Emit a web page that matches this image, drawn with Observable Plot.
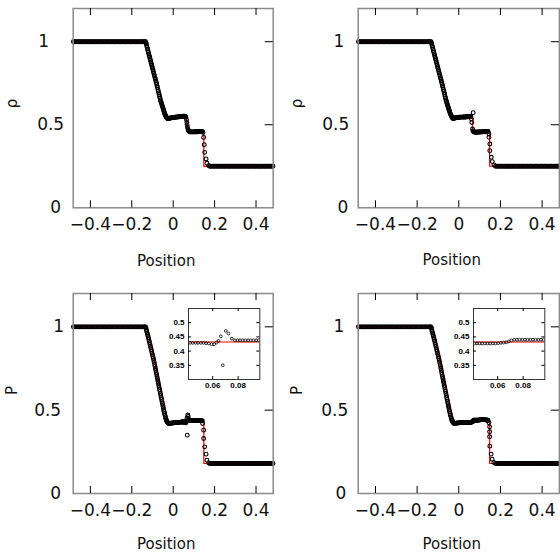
<!DOCTYPE html>
<html><head><meta charset="utf-8">
<script src="https://cdn.jsdelivr.net/npm/d3@7"></script>
<script src="https://cdn.jsdelivr.net/npm/@observablehq/plot@0.6"></script>
<style>
html,body{margin:0;padding:0;background:#fff;}
#chart{position:relative;width:560px;height:553px;overflow:hidden;background:#fff;}
#chart svg{position:absolute;overflow:visible;}
</style></head><body><div id="chart"></div>
<script>
// ---------- tick values ----------
const xTicks = [-0.4, -0.2, 0, 0.2, 0.4];
const yTicks = [0, 0.5, 1];
const insetXTicks = [0.06, 0.08];
const insetYTicks = [0.35, 0.4, 0.45, 0.5];

// ---------- states on both sides ----------
const rhoLeft = 1.0, rhoRight = 0.25, presLeft = 1.0, presRight = 0.18;

// particle positions in the undisturbed left and right states
const flatLeftX = [-0.482,-0.476,-0.470,-0.464,-0.458,-0.452,-0.446,-0.440,-0.434,-0.428,-0.422,-0.416,-0.410,-0.404,-0.398,-0.392,-0.386,-0.380,-0.374,-0.368,-0.362,-0.356,-0.350,-0.344,-0.338,-0.332,-0.326,-0.320,-0.314,-0.308,-0.302,-0.296,-0.290,-0.284,-0.278,-0.272,-0.266,-0.260,-0.254,-0.248,-0.242,-0.236,-0.230,-0.224,-0.218,-0.212,-0.206,-0.200,-0.194,-0.188,-0.182,-0.176,-0.170,-0.164,-0.158,-0.152,-0.146,-0.140,-0.137];
const flatRightX = [0.176,0.182,0.188,0.194,0.200,0.206,0.212,0.218,0.224,0.230,0.236,0.242,0.248,0.254,0.260,0.266,0.272,0.278,0.284,0.290,0.296,0.302,0.308,0.314,0.320,0.326,0.332,0.338,0.344,0.350,0.356,0.362,0.368,0.374,0.380,0.386,0.392,0.398,0.404,0.410,0.416,0.422,0.428,0.434,0.440,0.446,0.452,0.458,0.464,0.470,0.476,0.482];

// rarefaction fan (density)
const rhoFan = [[-0.134,1.000],[-0.132,0.994],[-0.130,0.986],[-0.128,0.976],[-0.126,0.966],[-0.124,0.956],[-0.122,0.946],[-0.120,0.937],[-0.118,0.927],[-0.116,0.917],[-0.114,0.908],[-0.112,0.898],[-0.110,0.888],[-0.108,0.879],[-0.106,0.869],[-0.104,0.860],[-0.102,0.850],[-0.100,0.840],[-0.098,0.831],[-0.096,0.821],[-0.094,0.812],[-0.092,0.802],[-0.090,0.793],[-0.088,0.783],[-0.086,0.774],[-0.084,0.764],[-0.082,0.755],[-0.080,0.745],[-0.078,0.734],[-0.076,0.724],[-0.074,0.713],[-0.072,0.703],[-0.070,0.692],[-0.068,0.682],[-0.066,0.671],[-0.064,0.661],[-0.062,0.650],[-0.060,0.642],[-0.058,0.634],[-0.056,0.626],[-0.054,0.618],[-0.052,0.610],[-0.050,0.602],[-0.048,0.594],[-0.046,0.586],[-0.044,0.578],[-0.042,0.570],[-0.040,0.564],[-0.038,0.558],[-0.036,0.553],[-0.034,0.548],[-0.032,0.544],[-0.030,0.540],[-0.028,0.537]];

// rarefaction fan (pressure)
const presFan = [[-0.134,1.000],[-0.132,0.993],[-0.130,0.983],[-0.128,0.973],[-0.126,0.964],[-0.124,0.954],[-0.122,0.945],[-0.120,0.935],[-0.118,0.925],[-0.116,0.915],[-0.114,0.905],[-0.112,0.895],[-0.110,0.884],[-0.108,0.874],[-0.106,0.863],[-0.104,0.853],[-0.102,0.842],[-0.100,0.832],[-0.098,0.821],[-0.096,0.811],[-0.094,0.800],[-0.092,0.788],[-0.090,0.775],[-0.088,0.763],[-0.086,0.750],[-0.084,0.738],[-0.082,0.725],[-0.080,0.713],[-0.078,0.700],[-0.076,0.688],[-0.074,0.675],[-0.072,0.663],[-0.070,0.650],[-0.068,0.638],[-0.066,0.625],[-0.064,0.613],[-0.062,0.600],[-0.060,0.588],[-0.058,0.575],[-0.056,0.563],[-0.054,0.550],[-0.052,0.538],[-0.050,0.525],[-0.048,0.513],[-0.046,0.500],[-0.044,0.490],[-0.042,0.480],[-0.040,0.470],[-0.038,0.460],[-0.036,0.450],[-0.034,0.443],[-0.032,0.437],[-0.030,0.432],[-0.028,0.428],[-0.026,0.424],[-0.024,0.421],[-0.022,0.420]];

// central region: plateau, contact, plateau, shock  (run A = left column, run B = right column)
const rhoMidA = [[-0.026,0.536],[-0.023,0.537],[-0.020,0.538],[-0.017,0.539],[-0.014,0.540],[-0.011,0.541],[-0.008,0.542],[-0.005,0.543],[-0.002,0.543],[0.001,0.544],[0.004,0.544],[0.007,0.545],[0.010,0.545],[0.013,0.546],[0.016,0.546],[0.019,0.547],[0.022,0.547],[0.025,0.548],[0.028,0.548],[0.031,0.548],[0.034,0.549],[0.037,0.549],[0.040,0.550],[0.043,0.550],[0.046,0.550],[0.049,0.551],[0.052,0.551],[0.055,0.551],[0.058,0.550],[0.061,0.545],
  [0.064,0.530],[0.066,0.514],[0.067,0.500],[0.069,0.486],[0.071,0.474],[0.074,0.465],[0.077,0.460],
  [0.080,0.458],[0.083,0.457],[0.086,0.457],[0.089,0.457],[0.092,0.457],[0.095,0.457],[0.098,0.457],[0.101,0.457],[0.104,0.457],[0.107,0.458],[0.110,0.458],[0.113,0.458],[0.116,0.458],[0.119,0.458],[0.122,0.458],[0.125,0.459],[0.128,0.459],[0.131,0.459],[0.134,0.460],[0.137,0.460],[0.140,0.459],
  [0.144,0.454],[0.147,0.424],[0.150,0.380],[0.152,0.334],[0.159,0.294],[0.163,0.268],[0.171,0.254]];

const rhoMidB = [[-0.026,0.537],[-0.023,0.539],[-0.020,0.540],[-0.017,0.541],[-0.014,0.542],[-0.011,0.543],[-0.008,0.543],[-0.005,0.544],[-0.002,0.544],[0.001,0.545],[0.004,0.545],[0.007,0.545],[0.010,0.546],[0.013,0.546],[0.016,0.546],[0.019,0.546],[0.022,0.547],[0.025,0.547],[0.028,0.547],[0.031,0.547],[0.034,0.547],[0.037,0.548],[0.040,0.548],[0.043,0.548],[0.046,0.548],[0.049,0.549],[0.052,0.549],[0.055,0.550],[0.058,0.551],
  [0.061,0.534],[0.0625,0.514],[0.069,0.573],[0.066,0.474],[0.068,0.462],[0.072,0.458],
  [0.075,0.456],[0.078,0.455],[0.081,0.455],[0.084,0.455],[0.087,0.455],[0.090,0.456],[0.093,0.456],[0.096,0.456],[0.099,0.456],[0.102,0.456],[0.105,0.457],[0.108,0.457],[0.111,0.457],[0.114,0.457],[0.117,0.458],[0.120,0.458],[0.123,0.458],[0.126,0.459],[0.129,0.459],[0.132,0.459],[0.135,0.460],[0.138,0.460],[0.141,0.460],
  [0.1446,0.444],[0.1446,0.424],[0.149,0.384],[0.149,0.344],[0.156,0.304],[0.161,0.278],[0.169,0.258]];

const presMidA = [[-0.020,0.420],[-0.017,0.421],[-0.014,0.421],[-0.011,0.422],[-0.008,0.422],[-0.005,0.423],[-0.002,0.423],[0.001,0.424],[0.004,0.424],[0.007,0.425],[0.010,0.425],[0.013,0.425],[0.016,0.426],[0.019,0.426],[0.022,0.426],[0.025,0.427],[0.028,0.427],[0.031,0.427],[0.034,0.428],[0.037,0.428],[0.040,0.428],
  [0.0423,0.429],[0.0444,0.429],[0.0465,0.429],[0.0485,0.429],[0.0507,0.429],[0.0528,0.429],[0.0548,0.428],[0.0569,0.427],[0.0591,0.424],[0.0611,0.424],[0.063,0.430],[0.0645,0.436],[0.0664,0.452],[0.0679,0.350],[0.0703,0.471],[0.0724,0.462],[0.075,0.444],[0.0774,0.438],[0.0795,0.438],[0.0815,0.438],[0.0836,0.438],[0.0857,0.438],[0.0878,0.438],[0.0899,0.438],[0.092,0.438],[0.0941,0.438],[0.0962,0.438],
  [0.099,0.438],[0.102,0.438],[0.105,0.438],[0.108,0.438],[0.111,0.438],[0.114,0.438],[0.117,0.438],[0.120,0.438],[0.123,0.438],[0.126,0.438],[0.129,0.438],[0.132,0.438],[0.135,0.437],[0.138,0.437],[0.141,0.436],
  [0.142,0.420],[0.147,0.380],[0.147,0.330],[0.152,0.280],[0.159,0.236],[0.163,0.200],[0.171,0.184]];

const presMidB = [[-0.020,0.421],[-0.017,0.421],[-0.014,0.422],[-0.011,0.422],[-0.008,0.423],[-0.005,0.423],[-0.002,0.424],[0.001,0.424],[0.004,0.424],[0.007,0.425],[0.010,0.425],[0.013,0.425],[0.016,0.425],[0.019,0.426],[0.022,0.426],[0.025,0.426],[0.028,0.426],[0.031,0.426],[0.034,0.427],[0.037,0.427],[0.040,0.427],
  [0.0418,0.427],[0.0437,0.427],[0.0457,0.427],[0.0478,0.427],[0.0499,0.427],[0.052,0.427],[0.0541,0.427],[0.0562,0.427],[0.0583,0.427],[0.0604,0.428],[0.0625,0.429],[0.0646,0.430],[0.0667,0.431],[0.0688,0.434],[0.0708,0.438],[0.073,0.440],[0.0751,0.440],[0.0772,0.440],[0.0793,0.440],[0.0814,0.440],[0.0835,0.440],[0.0856,0.440],[0.0877,0.440],[0.0898,0.440],[0.0919,0.440],[0.094,0.440],[0.0961,0.440],
  [0.099,0.441],[0.102,0.442],[0.105,0.443],[0.108,0.444],[0.111,0.444],[0.114,0.444],[0.117,0.444],[0.120,0.443],[0.123,0.443],[0.126,0.442],[0.129,0.442],[0.132,0.441],[0.135,0.441],[0.138,0.440],[0.141,0.438],
  [0.145,0.424],[0.148,0.400],[0.148,0.370],[0.148,0.340],[0.149,0.284],[0.155,0.236],[0.160,0.206],[0.168,0.186]];

// analytic solutions (red)
const rhoExact = [[-0.483,1],[-0.125,1],[-0.110,0.920],[-0.090,0.820],[-0.070,0.725],[-0.050,0.635],[-0.035,0.575],[-0.027,0.547],[0.066,0.547],[0.066,0.458],[0.148,0.458],[0.148,0.25],[0.483,0.25]];
const presExact = [[-0.483,1],[-0.125,1],[-0.110,0.905],[-0.090,0.790],[-0.070,0.680],[-0.050,0.575],[-0.035,0.490],[-0.025,0.432],[0.148,0.432],[0.148,0.18],[0.483,0.18]];

// ---------- drawing ----------
const fmtX = d => String(d).replace("-", "\u2212");
const fmtY = d => String(d);
const chart = document.getElementById("chart");
const ML = 72.7, MT = 8;

function buildPoints(leftVal, fan, mid, rightVal) {
  return [
    ...flatLeftX.map(x => ({x, y: leftVal})),
    ...fan.map(([x, y]) => ({x, y})),
    ...mid.map(([x, y]) => ({x, y})),
    ...flatRightX.map(x => ({x, y: rightVal}))
  ];
}

function mainPanel(cfg) {
  const pw = cfg.w - ML - cfg.mr, ph = cfg.h - MT - cfg.mb;
  const pts = buildPoints(cfg.leftVal, cfg.fan, cfg.mid, cfg.rightVal);
  const ylabMarks = yTicks.map((t, i) =>
    Plot.text([t], {y: d => d, text: fmtY, frameAnchor: "left", textAnchor: "end", lineAnchor: "middle", dx: -cfg.ypad[i], fill: "#111"}));
  const svg = Plot.plot({
    width: cfg.w, height: cfg.h,
    marginLeft: ML, marginRight: cfg.mr, marginTop: MT, marginBottom: cfg.mb,
    x: {domain: [-0.483, 0.483], axis: null},
    y: {domain: [0, 1.2], axis: null},
    style: {fontFamily: "DejaVu Sans", fontSize: "17px", background: "white", color: "black"},
    marks: [
      Plot.line(cfg.exact, {x: d => d[0], y: d => d[1], stroke: "#ff0000", strokeWidth: 1.2}),
      Plot.dot(pts, {x: "x", y: "y", r: 1.9, stroke: "black", strokeWidth: 1.1, fill: "none"}),
      Plot.frame({stroke: "#8a8a8a", strokeWidth: 1.5}),
      Plot.tickX(xTicks, {x: d => d, insetTop: ph - 7, stroke: "black", strokeWidth: 1}),
      Plot.tickX(xTicks, {x: d => d, insetBottom: ph - 7, stroke: "black", strokeWidth: 1}),
      Plot.tickY([0.5, 1], {y: d => d, insetLeft: pw - 8, stroke: "black", strokeWidth: 1}),
      Plot.text(xTicks, {x: d => d, text: fmtX, frameAnchor: "bottom", lineAnchor: "top", dy: 10.6, fill: "#111"}),
      ...ylabMarks,
      Plot.text(["Position"], {frameAnchor: "bottom", lineAnchor: "middle", dy: cfg.posdy, dx: -7, fontSize: 15, fill: "#111"}),
      Plot.text([cfg.label], {frameAnchor: "left", lineAnchor: "middle", dx: -60.7, dy: cfg.labdy, rotate: -90, fontSize: 15, fill: "#111"})
    ]
  });
  svg.style.left = cfg.left + "px";
  svg.style.top = cfg.top + "px";
  chart.appendChild(svg);
}

function insetPanel(cfg) {
  const IL = 30, IR = 4.7, IT = 4, IB = 17, IW = 106, IH = 92;
  const pw = IW - IL - IR, ph = IH - IT - IB;
  const pts = buildPoints(presLeft, presFan, cfg.mid, presRight);
  const svg = Plot.plot({
    width: IW, height: IH,
    marginLeft: IL, marginRight: IR, marginTop: IT, marginBottom: IB,
    x: {domain: [0.041, 0.097], axis: null},
    y: {domain: [0.3, 0.55], axis: null},
    style: {fontFamily: "Liberation Sans", fontSize: "8px", fontWeight: "bold", background: "transparent", color: "black"},
    marks: [
      Plot.frame({fill: "white"}),
      Plot.line(presExact, {x: d => d[0], y: d => d[1], stroke: "#ff0000", strokeWidth: 1.2, clip: true}),
      Plot.dot(pts, {x: "x", y: "y", r: 1.4, stroke: "black", strokeWidth: 0.8, fill: "none", clip: true}),
      Plot.frame({stroke: "#333", strokeWidth: 1}),
      Plot.tickX(insetXTicks, {x: d => d, insetTop: ph - 3, stroke: "black"}),
      Plot.tickX(insetXTicks, {x: d => d, insetBottom: ph - 3, stroke: "black"}),
      Plot.tickY(insetYTicks, {y: d => d, insetLeft: pw - 3, stroke: "black"}),
      Plot.tickY(insetYTicks, {y: d => d, insetRight: pw - 3, stroke: "black"}),
      Plot.text(insetXTicks, {x: d => d, text: d => String(d), frameAnchor: "bottom", lineAnchor: "top", dy: 3}),
      Plot.text(insetYTicks, {y: d => d, text: d => String(d), frameAnchor: "left", textAnchor: "end", lineAnchor: "middle", dx: -4})
    ]
  });
  svg.style.left = cfg.left + "px";
  svg.style.top = cfg.top + "px";
  chart.appendChild(svg);
}

mainPanel({left: 0, top: 0, w: 285, h: 285, mr: 12.3, mb: 77.7, label: "\u03c1", labdy: 0, posdy: 52.9,
  leftVal: rhoLeft, rightVal: rhoRight, fan: rhoFan, mid: rhoMidA, exact: rhoExact, ypad: [12, 9, 24]});
mainPanel({left: 284.6, top: 0, w: 275.4, h: 285, mr: 1.5, mb: 77.7, label: "\u03c1", labdy: 0, posdy: 52.9,
  leftVal: rhoLeft, rightVal: rhoRight, fan: rhoFan, mid: rhoMidB, exact: rhoExact, ypad: [10, 9, 14]});
mainPanel({left: 0, top: 285.3, w: 285, h: 268, mr: 12.3, mb: 60, label: "P", labdy: 1.5, posdy: 50.5,
  leftVal: presLeft, rightVal: presRight, fan: presFan, mid: presMidA, exact: presExact, ypad: [12, 12, 9]});
mainPanel({left: 284.6, top: 285.3, w: 275.4, h: 268, mr: 1.5, mb: 60, label: "P", labdy: 1.5, posdy: 50.5,
  leftVal: presLeft, rightVal: presRight, fan: presFan, mid: presMidB, exact: presExact, ypad: [12, 10, 14]});

insetPanel({left: 157.7, top: 304.3, mid: presMidA});
insetPanel({left: 443.3, top: 304.3, mid: presMidB});
</script></body></html>
